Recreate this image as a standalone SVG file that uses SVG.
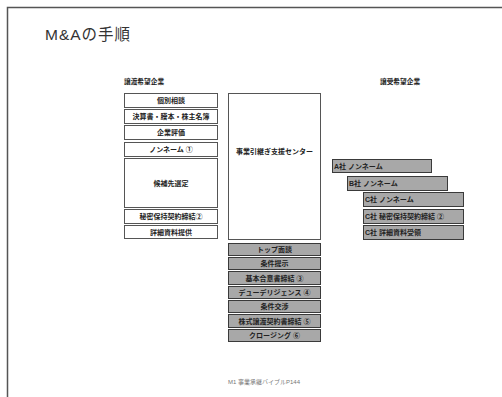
<svg xmlns="http://www.w3.org/2000/svg" width="502" height="397" viewBox="0 0 502 397">
<style>
.t{font-family:"Liberation Sans","Noto Sans CJK JP",sans-serif;fill:#222;font-weight:bold;font-size:7px;text-anchor:middle}
.tl{text-anchor:start}
.w{fill:#fff;stroke:#555;stroke-width:1}
.g{fill:#a8a8a8;stroke:#3a3a3a;stroke-width:1}
.h{font-family:"Liberation Sans","Noto Sans CJK JP",sans-serif;fill:#222;font-weight:bold;font-size:6.7px}
</style>
<rect width="502" height="397" fill="#fff"/>
<path d="M7.5,397 V7.5 H502" fill="none" stroke="#555" stroke-width="1.5"/>
<text x="45" y="40" font-family="'Liberation Sans','Noto Sans CJK JP',sans-serif" font-size="15.5" fill="#333" letter-spacing="1">M&amp;Aの手順</text>
<g id="left-header"><text class="h" x="124" y="84">譲渡希望企業</text></g>
<g id="right-header"><text class="h" x="380" y="84">譲受希望企業</text></g>
<g id="n1"><rect class="w" x="124.5" y="93.5" width="93" height="14"/><text class="t" x="171" y="103">個別相談</text></g>
<g id="n2"><rect class="w" x="124.5" y="109.5" width="93" height="14"/><text class="t" x="171" y="119">決算書・謄本・株主名簿</text></g>
<g id="n3"><rect class="w" x="124.5" y="125.5" width="93" height="14"/><text class="t" x="171" y="135">企業評価</text></g>
<g id="n4"><rect class="w" x="124.5" y="142.5" width="93" height="14"/><text class="t" x="171" y="152">ノンネーム ①</text></g>
<g id="n5"><rect class="w" x="124.5" y="158.5" width="93" height="49"/><text class="t" x="171" y="186">候補先選定</text></g>
<g id="n6"><rect class="w" x="124.5" y="209.5" width="93" height="14"/><text class="t" x="171" y="219">秘密保持契約締結②</text></g>
<g id="n7"><rect class="w" x="124.5" y="225.5" width="93" height="13"/><text class="t" x="171" y="235">詳細資料提供</text></g>
<g id="center"><rect class="w" x="228.5" y="93.5" width="92" height="146"/><text class="t" x="274.5" y="154">事業引継ぎ支援センター</text></g>
<g id="c1"><rect class="g" x="228.5" y="243.5" width="92" height="12"/><text class="t" x="274.5" y="252">トップ面談</text></g>
<g id="c2"><rect class="g" x="228.5" y="257.5" width="92" height="12"/><text class="t" x="274.5" y="266">条件提示</text></g>
<g id="c3"><rect class="g" x="228.5" y="271.5" width="92" height="13"/><text class="t" x="274.5" y="281">基本合意書締結 ③</text></g>
<g id="c4"><rect class="g" x="228.5" y="286.5" width="92" height="12"/><text class="t" x="274.5" y="295">デューデリジェンス ④</text></g>
<g id="c5"><rect class="g" x="228.5" y="300.5" width="92" height="12"/><text class="t" x="274.5" y="309">条件交渉</text></g>
<g id="c6"><rect class="g" x="228.5" y="314.5" width="92" height="13"/><text class="t" x="274.5" y="324">株式譲渡契約書締結 ⑤</text></g>
<g id="c7"><rect class="g" x="228.5" y="329.5" width="92" height="12"/><text class="t" x="274.5" y="338">クロージング ⑥</text></g>
<g id="r1"><rect class="g" x="332.5" y="159.5" width="99" height="13"/><text class="t tl" x="334" y="169">A社 ノンネーム</text></g>
<g id="r2"><rect class="g" x="347.5" y="176.5" width="100" height="14"/><text class="t tl" x="349" y="186">B社 ノンネーム</text></g>
<g id="r3"><rect class="g" x="363.5" y="192.5" width="100" height="14"/><text class="t tl" x="365" y="202">C社 ノンネーム</text></g>
<g id="r4"><rect class="g" x="363.5" y="209.5" width="100" height="14"/><text class="t tl" x="365" y="219">C社 秘密保持契約締結 ②</text></g>
<g id="r5"><rect class="g" x="363.5" y="225.5" width="100" height="14"/><text class="t tl" x="365" y="235">C社 詳細資料受領</text></g>
<g id="connectors"></g>
<text x="264" y="384" font-family="'Liberation Sans','Noto Sans CJK JP',sans-serif" font-size="6" fill="#777" text-anchor="middle">M1 事業承継バイブルP144</text>
</svg>
